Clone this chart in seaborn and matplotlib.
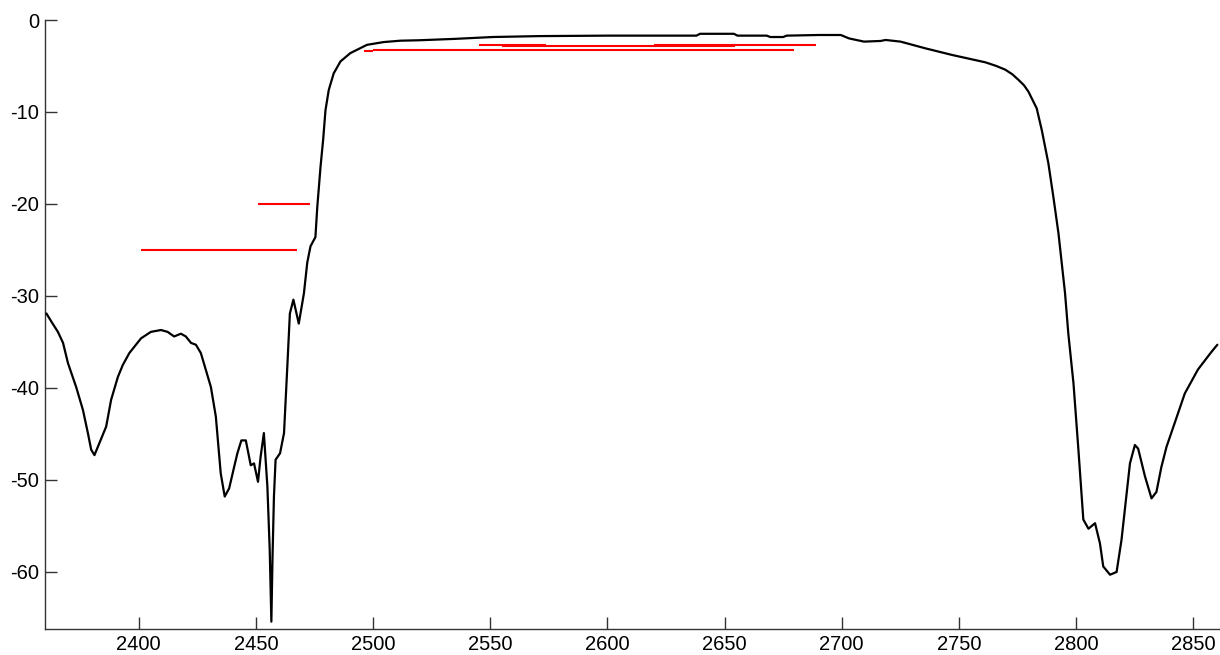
import matplotlib
matplotlib.use("Agg")
import matplotlib.pyplot as plt
import pandas as pd
import seaborn as sns

freq = [
    2360.6, 2363.0, 2365.5, 2367.7, 2369.8, 2373.3, 2376.2, 2378.3, 2379.7, 2381.1,
    2383.2, 2386.1, 2388.2, 2391.1, 2393.2, 2396.0, 2401.0, 2405.2, 2409.5, 2412.3,
    2415.1, 2418.0, 2420.1, 2422.3, 2424.4, 2426.5, 2428.6, 2430.8, 2432.9, 2435.0,
    2436.7, 2438.6, 2440.7, 2442.1, 2443.8, 2445.7, 2447.8, 2449.2, 2450.9, 2452.0,
    2453.4, 2454.9, 2455.9, 2456.6, 2457.1, 2457.7, 2458.4, 2460.3, 2462.0, 2463.4,
    2464.5, 2466.0, 2468.3, 2470.5, 2471.9, 2473.3, 2475.4, 2476.2, 2477.6, 2478.7,
    2479.7, 2481.1, 2483.2, 2486.1, 2490.3, 2497.4, 2504.5, 2511.6, 2520.0, 2535.0,
    2551.0, 2571.0, 2600.0, 2638.0, 2639.5, 2654.0, 2655.5, 2668.0, 2669.5, 2675.0,
    2676.5, 2690.3, 2699.6, 2703.1, 2709.5, 2716.6, 2718.7, 2725.1, 2735.7, 2747.1,
    2761.3, 2766.0, 2769.8, 2772.8, 2775.4, 2777.8, 2779.7, 2783.2, 2785.4, 2788.2,
    2790.3, 2792.5, 2795.3, 2796.7, 2798.9, 2801.0, 2803.1, 2805.3, 2808.1, 2810.2,
    2811.6, 2814.5, 2817.3, 2819.4, 2823.0, 2825.1, 2826.5, 2829.4, 2832.2, 2834.3,
    2836.4, 2838.6, 2842.1, 2846.4, 2852.0, 2857.7, 2860.3,
]
s21_db = [
    -31.9, -32.9, -33.9, -35.1, -37.3, -39.9, -42.4, -44.9, -46.7, -47.3,
    -46.0, -44.2, -41.3, -38.8, -37.5, -36.2, -34.6, -33.9, -33.7, -33.9,
    -34.4, -34.1, -34.4, -35.1, -35.3, -36.2, -38.0, -39.9, -43.1, -49.3,
    -51.8, -50.9, -48.6, -47.1, -45.7, -45.7, -48.4, -48.2, -50.2, -47.5,
    -44.9, -50.7, -57.6, -65.4, -58.3, -51.8, -47.8, -47.1, -44.9, -37.7,
    -31.9, -30.4, -33.0, -29.7, -26.4, -24.6, -23.6, -20.3, -15.9, -13.0,
    -9.8, -7.6, -5.8, -4.5, -3.6, -2.7, -2.4, -2.25, -2.2, -2.05,
    -1.85, -1.75, -1.7, -1.7, -1.5, -1.5, -1.7, -1.7, -1.85, -1.85,
    -1.7, -1.63, -1.63, -2.0, -2.35, -2.28, -2.17, -2.35, -3.08, -3.8,
    -4.6, -5.0, -5.4, -5.9, -6.5, -7.1, -7.8, -9.6, -12.0, -15.6,
    -19.2, -23.2, -29.7, -34.1, -39.5, -46.7, -54.3, -55.3, -54.7, -56.9,
    -59.4, -60.3, -60.0, -56.5, -48.2, -46.2, -46.6, -49.6, -52.0, -51.3,
    -48.6, -46.4, -43.8, -40.6, -38.0, -36.1, -35.3,
]

# spec mask segments
mask_level = [-20.0, -25.0, -3.4, -3.25, -2.7, -2.8, -2.7]
mask_start = [2451.0, 2401.0, 2496.0, 2500.0, 2545.0, 2555.0, 2620.0]
mask_stop = [2473.0, 2467.4, 2500.0, 2679.5, 2574.0, 2654.6, 2689.2]

df = pd.DataFrame({"freq": freq, "db": s21_db})

sns.set_style("ticks")
plt.rcParams["font.family"] = ["Liberation Sans", "DejaVu Sans"]
plt.rcParams["axes.unicode_minus"] = False

fig, ax = plt.subplots(figsize=(12.2, 6.55), dpi=100)
fig.subplots_adjust(left=45 / 1220, right=1219 / 1220, bottom=1 - 629 / 655, top=1 - 20 / 655)

ax.hlines(mask_level, mask_start, mask_stop, colors="#ff0000", linewidth=1.5, zorder=2)
sns.lineplot(data=df, x="freq", y="db", color="black", linewidth=1.6,
             estimator=None, sort=False, ax=ax, zorder=3)

ax.set_xlim(2360, 2861)
ax.set_ylim(-66.2, 0)
ax.set_xticks(range(2400, 2851, 50))
ax.set_yticks(range(-60, 1, 10))
ax.set_xlabel("")
ax.set_ylabel("")
ax.tick_params(direction="in", length=8.5, width=1, color="#333333",
               labelsize=14.5, pad=4, labelcolor="black")
for side in ["top", "right"]:
    ax.spines[side].set_visible(False)
for side in ["left", "bottom"]:
    ax.spines[side].set_color("#333333")
    ax.spines[side].set_linewidth(1)

fig.savefig("out.png", dpi=100)
